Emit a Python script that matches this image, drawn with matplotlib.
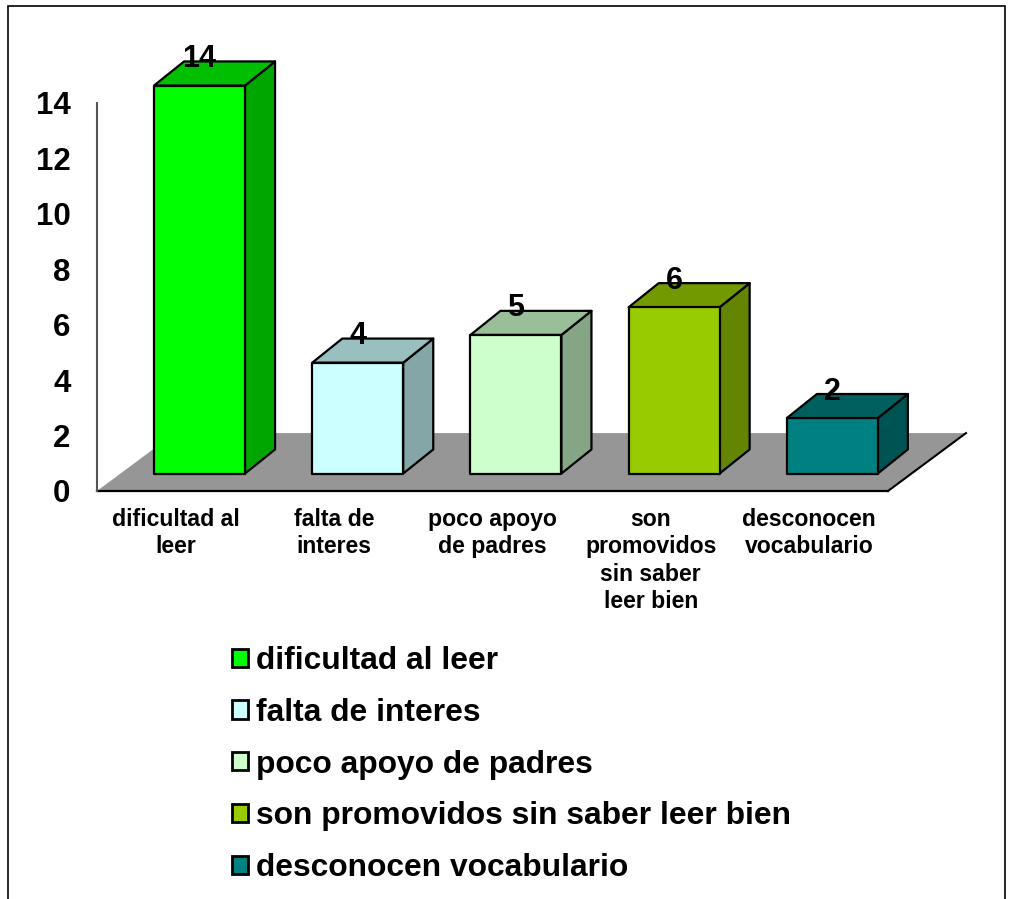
import matplotlib
matplotlib.use('Agg')
import matplotlib.pyplot as plt
from matplotlib.patches import Polygon, Rectangle, Patch

plt.rcParams['font.family'] = ['Liberation Sans', 'DejaVu Sans']
plt.rcParams['font.weight'] = 'bold'

categories = ['dificultad al leer', 'falta de interes', 'poco apoyo de padres',
              'son promovidos sin saber leer bien', 'desconocen vocabulario']
tick_labels = ['dificultad al\nleer', 'falta de\ninteres', 'poco apoyo\nde padres',
               'son\npromovidos\nsin saber\nleer bien', 'desconocen\nvocabulario']
values = [14, 4, 5, 6, 2]
front_colors = ['#00FF00', '#CCFFFF', '#CCFFCC', '#99CC00', '#008080']
top_colors = ['#00BF00', '#99BFBF', '#99BF99', '#739900', '#006060']
side_colors = ['#00A600', '#85A6A6', '#85A685', '#648500', '#005353']
y_ticks = [0, 2, 4, 6, 8, 10, 12, 14]

W, H = 1010, 899
bar_w = 0.575
# depth of the fake 3d, in data units
floor_dx, floor_dy = 0.493, 2.09
bar_off_x, bar_off_y = 0.148, 0.63
bar_dx, bar_dy = 0.19, 0.87

fig = plt.figure(figsize=(W / 100, H / 100), dpi=100)
ax = fig.add_axes([97 / W, 1 - 491 / H, 791 / W, 388 / H])
ax.set_xlim(0, 5)
ax.set_ylim(0, 14)
ax.patch.set_alpha(0)

# frame of the picture
fig.add_artist(Rectangle((7.8 / W, -0.02), 997 / W, 1.02 - 5.8 / H, transform=fig.transFigure,
                         fill=False, ec='black', lw=1.2))

# floor
ax.add_patch(Polygon([(0, 0), (5, 0), (5 + floor_dx, floor_dy), (floor_dx, floor_dy)],
                     fc='#969696', ec='none', clip_on=False, zorder=1))
ax.plot([5, 5 + floor_dx], [0, floor_dy], color='black', lw=1.5, clip_on=False, zorder=2)

for i, v in enumerate(values):
    x0 = i + 0.5 - bar_w / 2 + bar_off_x
    x1 = x0 + bar_w
    y0 = bar_off_y
    y1 = y0 + v
    style = dict(ec='black', lw=1.6, joinstyle='round', clip_on=False, zorder=3)
    ax.add_patch(Polygon([(x1, y0), (x1 + bar_dx, y0 + bar_dy), (x1 + bar_dx, y1 + bar_dy), (x1, y1)],
                         fc=side_colors[i], **style))
    ax.add_patch(Polygon([(x0, y1), (x1, y1), (x1 + bar_dx, y1 + bar_dy), (x0 + bar_dx, y1 + bar_dy)],
                         fc=top_colors[i], **style))
    ax.add_patch(Rectangle((x0, y0), bar_w, v, fc=front_colors[i], **style))
    ax.text(x0 + bar_w / 2, y1 + 0.96, str(v), ha='center', va='center', fontsize=22,
            fontweight='bold', color='black', zorder=4, clip_on=False)

ax.set_yticks(y_ticks)
ax.set_yticklabels([str(t) for t in y_ticks], fontsize=22.5, fontweight='bold')
ax.tick_params(axis='y', length=0, pad=19)
ax.set_xticks([i + 0.5 for i in range(5)])
ax.set_xticklabels(tick_labels, fontsize=16.6, fontweight='bold', linespacing=1.25)
ax.tick_params(axis='x', length=0, pad=12)
for s in ['top', 'right']:
    ax.spines[s].set_visible(False)
ax.spines['left'].set_color('#555555')
ax.spines['left'].set_linewidth(1.5)
ax.spines['bottom'].set_color('black')
ax.spines['bottom'].set_linewidth(1.6)
ax.spines['bottom'].set_zorder(2)

handles = [Patch(fc=c, ec='black', lw=2.0) for c in front_colors]
fig.legend(handles, categories, loc='upper left', bbox_to_anchor=(232 / W, 1 - 646 / H),
           frameon=False, fontsize=22.9, handlelength=0.5, handleheight=0.5, handletextpad=0.26,
           labelspacing=0.685, borderpad=0, borderaxespad=0)

fig.savefig('out.png', dpi=100, facecolor='white')
